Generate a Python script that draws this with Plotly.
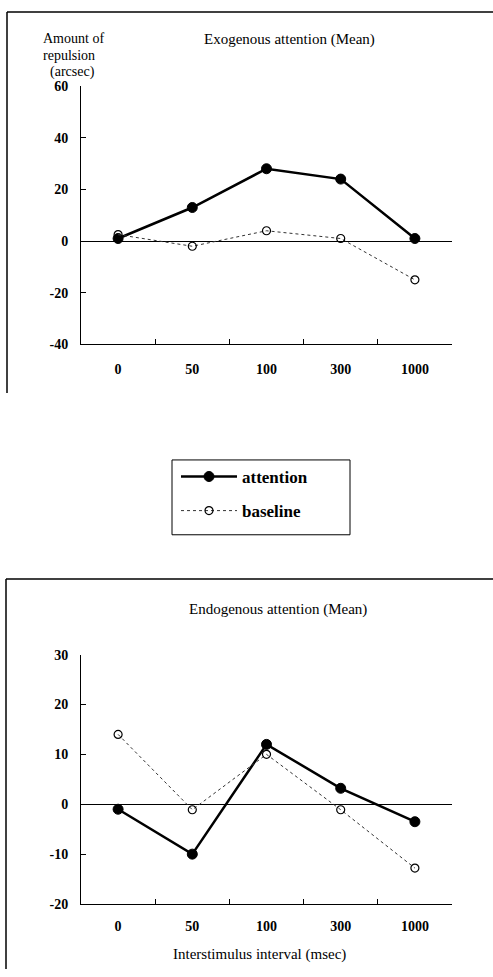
import plotly.graph_objects as go

categories = ["0", "50", "100", "300", "1000"]
exo_attention = [1, 13, 28, 24, 1]
exo_baseline = [2.5, -2, 4, 1, -15]
endo_attention = [-1, -10, 12, 3.2, -3.5]
endo_baseline = [14, -1.1, 10, -1.1, -12.8]
exo_ticks = [-40, -20, 0, 20, 40, 60]
endo_ticks = [-20, -10, 0, 10, 20, 30]

W, H = 493, 977
FONT = "Liberation Serif, Times New Roman, serif"

def px(x):
    return x / W

def py(y):
    return 1 - y / H

fig = go.Figure()

att_style = dict(mode="lines+markers", line=dict(color="black", width=2.5),
                 marker=dict(symbol="circle", size=10, color="black",
                             line=dict(color="black", width=1)))
base_style = dict(mode="lines+markers", line=dict(color="#333333", width=1, dash="dot"),
                  marker=dict(symbol="circle-open", size=8, color="black",
                              line=dict(color="black", width=1.2)))

fig.add_trace(go.Scatter(x=categories, y=exo_attention, name="attention", legendgroup="a",
                         xaxis="x", yaxis="y", showlegend=True, **att_style))
fig.add_trace(go.Scatter(x=categories, y=exo_baseline, name="baseline", legendgroup="b",
                         xaxis="x", yaxis="y", showlegend=True, **base_style))
fig.add_trace(go.Scatter(x=categories, y=endo_attention, name="attention", legendgroup="a",
                         xaxis="x2", yaxis="y2", showlegend=False, **att_style))
fig.add_trace(go.Scatter(x=categories, y=endo_baseline, name="baseline", legendgroup="b",
                         xaxis="x2", yaxis="y2", showlegend=False, **base_style))

tickfont = dict(family=FONT, size=14, color="black", weight="bold")
xdom = [px(81), px(452)]

xcommon = dict(type="category", categoryorder="array", categoryarray=categories,
               range=[-0.5, 4.5], domain=xdom, showline=True, linecolor="black",
               linewidth=1, ticks="inside", ticklen=5, tickcolor="black",
               tickson="boundaries", showgrid=False, zeroline=False,
               tickfont=tickfont, fixedrange=True)
ycommon = dict(showline=True, linecolor="black", linewidth=1, ticks="inside",
               ticklen=5, tickcolor="black", showgrid=False, zeroline=True,
               zerolinecolor="black", zerolinewidth=1.2, tickfont=tickfont,
               ticklabelstandoff=9, fixedrange=True)

fig.update_layout(
    width=W, height=H,
    margin=dict(l=0, r=0, t=0, b=0),
    paper_bgcolor="white", plot_bgcolor="white",
    xaxis=dict(anchor="y", ticklabelstandoff=12, **xcommon),
    yaxis=dict(anchor="x", domain=[py(342.7), py(80.3)], range=[-40, 60],
               tickvals=exo_ticks, ticktext=[str(v) for v in exo_ticks], **ycommon),
    xaxis2=dict(anchor="y2", ticklabelstandoff=9, **xcommon),
    yaxis2=dict(anchor="x2", domain=[py(911), py(657.7)], range=[-20, 30],
                tickvals=endo_ticks, ticktext=[str(v) for v in endo_ticks], **ycommon),
    legend=dict(x=px(176), y=py(459), xanchor="left", yanchor="top",
                borderwidth=0, bgcolor="rgba(0,0,0,0)",
                font=dict(family=FONT, size=17, color="black", weight="bold"),
                tracegroupgap=9, itemwidth=56),
    showlegend=True,
)

title_font = dict(family=FONT, size=15, color="black")
annotations = [
    dict(text="Exogenous attention (Mean)", x=px(289), y=py(33)),
    dict(text="Endogenous attention (Mean)", x=px(278), y=py(612)),
    dict(text="Interstimulus interval (msec)", x=px(259), y=py(962)),
]
for a in annotations:
    fig.add_annotation(xref="paper", yref="paper", showarrow=False,
                       xanchor="center", yanchor="middle", font=title_font, **a)

for txt, xl, yc in [("Amount of", 40.5, 32), ("repulsion", 40.5, 49), ("(arcsec)", 47.5, 66)]:
    fig.add_annotation(xref="paper", yref="paper", showarrow=False,
                       x=px(xl), y=py(yc), xanchor="left", yanchor="middle",
                       text=txt, font=dict(family=FONT, size=14, color="black"))

line = dict(color="black", width=1.5)
shapes = [
    dict(type="line", xref="paper", yref="paper", x0=px(7), x1=1, y0=py(5), y1=py(5), line=line),
    dict(type="line", xref="paper", yref="paper", x0=px(7), x1=px(7), y0=py(5), y1=py(392), line=line),
    dict(type="line", xref="paper", yref="paper", x0=px(6), x1=1, y0=py(581), y1=py(581), line=line),
    dict(type="line", xref="paper", yref="paper", x0=px(6), x1=px(6), y0=py(581), y1=0, line=line),
    dict(type="rect", xref="paper", yref="paper", x0=px(172), x1=px(350), y0=py(536), y1=py(460),
         line=dict(color="black", width=1)),
]
fig.update_layout(shapes=shapes)

fig.write_html("out.html", config={"displayModeBar": False},
               post_script="document.body.style.margin='0';")
